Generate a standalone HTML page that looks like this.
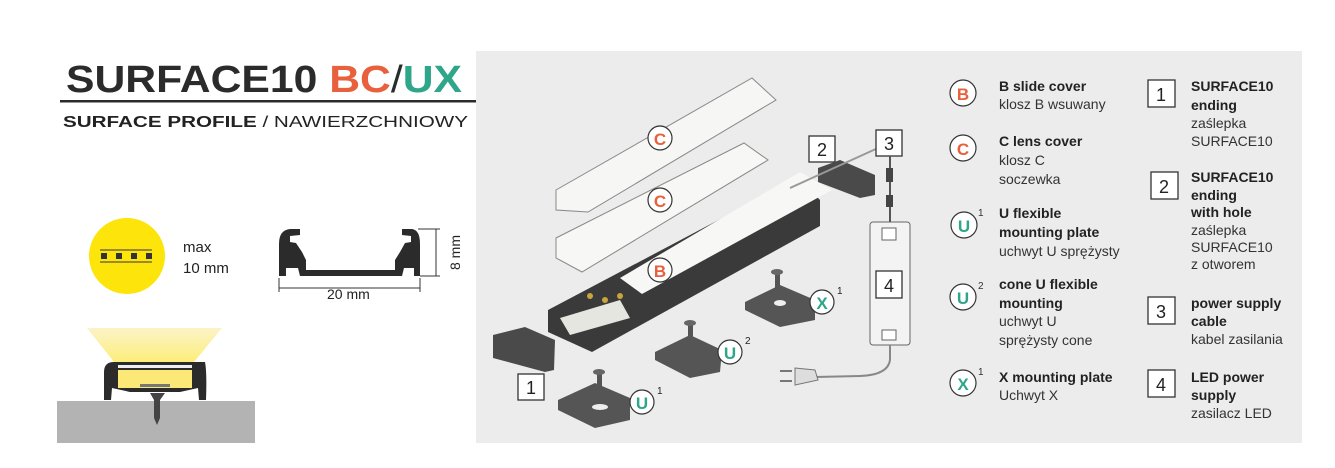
<!DOCTYPE html>
<html><head><meta charset="utf-8"><style>
body{margin:0;width:1335px;height:468px;background:#fff;overflow:hidden;font-family:"Liberation Sans","DejaVu Sans",sans-serif}
svg{display:block}
</style></head><body>
<svg width="1335" height="468" viewBox="0 0 1335 468" xmlns="http://www.w3.org/2000/svg" font-family="Liberation Sans, DejaVu Sans, sans-serif">
<rect x="476" y="51" width="826" height="392" fill="#ebeceb"/>
<!-- title -->
<text x="66" y="92" font-size="38" font-weight="bold" fill="#2b2b2b" textLength="396" lengthAdjust="spacingAndGlyphs">SURFACE10 <tspan fill="#e8613c">BC</tspan><tspan fill="#2b2b2b" font-weight="normal">/</tspan><tspan fill="#2fa58a">UX</tspan></text>
<rect x="60" y="100" width="416" height="2.5" fill="#2b2b2b"/>
<text x="63" y="127" font-size="16" fill="#222" textLength="405" lengthAdjust="spacingAndGlyphs"><tspan font-weight="bold">SURFACE PROFILE</tspan> / NAWIERZCHNIOWY</text>
<!-- yellow circle -->
<circle cx="127" cy="256" r="38" fill="#fde40a"/>
<line x1="100" y1="250" x2="152" y2="250" stroke="#333" stroke-width="1"/>
<line x1="100" y1="262" x2="152" y2="262" stroke="#333" stroke-width="1"/>
<rect x="101" y="253" width="6" height="6" fill="#333"/><rect x="116" y="253" width="6" height="6" fill="#333"/><rect x="131" y="253" width="6" height="6" fill="#333"/><rect x="146" y="253" width="6" height="6" fill="#333"/>
<text x="183" y="252" font-size="15" fill="#222">max</text>
<text x="183" y="273" font-size="15" fill="#222">10 mm</text>
<!-- profile drawing -->
<path d="M279 244 Q279 230 290 229 L300 229 L300 235 L290 236 L290 242 L296 243 L302 252 L306 260 L306 270 L395 270 L395 260 L400 252 L405 243 L411 242 L411 236 L402 235 L402 229 L412 229 Q420 230 420 244 L420 276 L414 276 L414 268 L404 268 L402 276 L300 276 L298 268 L286 268 L286 276 L279 276 Z" fill="#2b2b2b"/>
<line x1="279" y1="288" x2="420" y2="288" stroke="#333" stroke-width="1"/>
<line x1="279" y1="278" x2="279" y2="292" stroke="#333"/><line x1="420" y1="278" x2="420" y2="292" stroke="#333"/>
<text x="327" y="299" font-size="14" fill="#222">20 mm</text>
<line x1="418" y1="229" x2="440" y2="229" stroke="#333"/><line x1="420" y1="276" x2="440" y2="276" stroke="#333"/>
<line x1="436" y1="229" x2="436" y2="276" stroke="#333"/>
<text x="0" y="0" font-size="14" fill="#222" transform="translate(460,270) rotate(-90)">8 mm</text>
<!-- light cone -->
<defs><linearGradient id="lg" x1="0" y1="0" x2="0" y2="1"><stop offset="0" stop-color="#fbf3c8"/><stop offset="1" stop-color="#fdee7a"/></linearGradient></defs>
<polygon points="87,328 222,328 194,362 114,362" fill="url(#lg)"/>
<rect x="57" y="401" width="198" height="42" fill="#b3b3b3"/>
<path d="M104 372 Q104 362 114 362 L205 362 Q207 372 206 400 L199 400 L198 388 L180 392 L130 392 L112 388 L111 400 L104 400 Z" fill="#2b2b2b"/>
<rect x="118" y="370" width="74" height="18" fill="#fbe877"/>
<rect x="118" y="365" width="74" height="3" fill="#eee"/>
<rect x="140" y="384" width="30" height="3" fill="#777"/>
<polygon points="150,393 165,393 160,400 160,418 157,425 154,418 154,400" fill="#444"/>
<!-- diagram parts -->
<polygon points="556,190 752,78 776,100 588,212 556,210" fill="#f6f6f4" stroke="#888" stroke-width="1"/>
<circle cx="660" cy="138" r="12" fill="#fff" stroke="#333" stroke-width="1.2"/><text x="660" y="145" font-size="17" font-weight="bold" fill="#e8613c" text-anchor="middle">C</text>
<polygon points="556,238 744,143 768,160 582,272 556,258" fill="#f7f7f5" stroke="#888" stroke-width="1"/>
<circle cx="660" cy="200" r="12" fill="#fff" stroke="#333" stroke-width="1.2"/><text x="660" y="207" font-size="17" font-weight="bold" fill="#e8613c" text-anchor="middle">C</text>
<polygon points="548,310 798,178 820,200 820,226 592,352 548,332" fill="#3a3a3a"/>
<polygon points="620,278 800,172 832,190 642,294" fill="#f7f7f5"/>
<polygon points="560,318 620,300 630,318 570,335" fill="#e6e6e0"/>
<circle cx="590" cy="296" r="3" fill="#c9a53a"/><circle cx="605" cy="300" r="3" fill="#c9a53a"/><circle cx="620" cy="296" r="3" fill="#c9a53a"/>
<circle cx="660" cy="270" r="12" fill="#fff" stroke="#333" stroke-width="1.2"/><text x="660" y="277" font-size="17" font-weight="bold" fill="#e8613c" text-anchor="middle">B</text>
<polygon points="493,335 525,327 555,340 554,370 545,372 493,358" fill="#4a4a4a"/>
<rect x="518" y="374" width="26" height="26" fill="#fff" stroke="#333" stroke-width="1.3"/><text x="531" y="394" font-size="18" fill="#222" text-anchor="middle">1</text>
<rect x="809" y="136" width="26" height="26" fill="#fff" stroke="#333" stroke-width="1.3"/><text x="822" y="156" font-size="18" fill="#222" text-anchor="middle">2</text>
<polygon points="818,168 840,160 875,175 875,195 860,198 818,182" fill="#4a4a4a"/>
<line x1="790" y1="188" x2="878" y2="148" stroke="#999" stroke-width="2"/>
<rect x="876" y="130" width="26" height="26" fill="#fff" stroke="#333" stroke-width="1.3"/><text x="889" y="150" font-size="18" fill="#222" text-anchor="middle">3</text>
<line x1="890" y1="156" x2="890" y2="222" stroke="#555" stroke-width="2"/>
<rect x="886" y="168" width="7" height="14" fill="#444"/><rect x="886" y="195" width="7" height="12" fill="#444"/>
<rect x="870" y="222" width="40" height="123" rx="3" fill="#f3f3f3" stroke="#666" stroke-width="1"/>
<rect x="882" y="228" width="14" height="12" fill="#fff" stroke="#666"/><rect x="882" y="330" width="14" height="10" fill="#fff" stroke="#666"/>
<rect x="876" y="271" width="26" height="27" fill="#fff" stroke="#333" stroke-width="1.3"/><text x="889" y="292" font-size="18" fill="#222" text-anchor="middle">4</text>
<path d="M890 345 L890 360 Q888 375 860 376 L815 377" fill="none" stroke="#888" stroke-width="2"/>
<polygon points="795,368 815,370 818,380 795,385" fill="#ddd" stroke="#777"/>
<line x1="792" y1="371" x2="780" y2="371" stroke="#777" stroke-width="2"/><line x1="792" y1="381" x2="780" y2="381" stroke="#777" stroke-width="2"/>
<!-- plates -->
<polygon points="745,302 780,285 815,300 815,320 780,327 745,310" fill="#555"/>
<rect x="775" y="272" width="5" height="22" fill="#555"/><ellipse cx="777" cy="272" rx="6" ry="3" fill="#666"/>
<ellipse cx="780" cy="303" rx="6" ry="3" fill="#eee"/>
<circle cx="822" cy="302" r="12" fill="#fff" stroke="#333" stroke-width="1.2"/><text x="822" y="309" font-size="17" font-weight="bold" fill="#2fa58a" text-anchor="middle">X</text><text x="837" y="294" font-size="10" fill="#222">1</text>
<polygon points="655,352 690,335 722,350 720,372 690,378 655,360" fill="#555"/>
<rect x="688" y="323" width="5" height="22" fill="#555"/><ellipse cx="690" cy="323" rx="6" ry="3" fill="#666"/>
<circle cx="730" cy="352" r="12" fill="#fff" stroke="#333" stroke-width="1.2"/><text x="730" y="359" font-size="17" font-weight="bold" fill="#2fa58a" text-anchor="middle">U</text><text x="745" y="344" font-size="10" fill="#222">2</text>
<polygon points="558,400 595,383 630,398 630,420 595,428 558,410" fill="#555"/>
<rect x="597" y="372" width="5" height="22" fill="#555"/><ellipse cx="599" cy="372" rx="6" ry="3" fill="#666"/>
<ellipse cx="600" cy="407" rx="8" ry="3" fill="#eee"/>
<circle cx="642" cy="402" r="12" fill="#fff" stroke="#333" stroke-width="1.2"/><text x="642" y="409" font-size="17" font-weight="bold" fill="#2fa58a" text-anchor="middle">U</text><text x="657" y="394" font-size="10" fill="#222">1</text>
<!-- legend -->
<g font-size="14" fill="#333">
<circle cx="963" cy="93" r="13" fill="#fff" stroke="#333" stroke-width="1.2"/><text x="963" y="100" font-size="17" font-weight="bold" fill="#e8613c" text-anchor="middle">B</text>
<text x="999" y="91" font-weight="bold" fill="#222">B slide cover</text><text x="999" y="109">klosz B wsuwany</text>
<circle cx="963" cy="148" r="13" fill="#fff" stroke="#333" stroke-width="1.2"/><text x="963" y="155" font-size="17" font-weight="bold" fill="#e8613c" text-anchor="middle">C</text>
<text x="999" y="146" font-weight="bold" fill="#222">C lens cover</text><text x="999" y="165">klosz C</text><text x="999" y="184">soczewka</text>
<circle cx="964" cy="225" r="13" fill="#fff" stroke="#333" stroke-width="1.2"/><text x="964" y="232" font-size="17" font-weight="bold" fill="#2fa58a" text-anchor="middle">U</text><text x="978" y="216" font-size="10">1</text>
<text x="999" y="218" font-weight="bold" fill="#222">U flexible</text><text x="999" y="237" font-weight="bold" fill="#222">mounting plate</text><text x="999" y="256">uchwyt U sprężysty</text>
<circle cx="963" cy="297" r="13" fill="#fff" stroke="#333" stroke-width="1.2"/><text x="963" y="304" font-size="17" font-weight="bold" fill="#2fa58a" text-anchor="middle">U</text><text x="978" y="289" font-size="10">2</text>
<text x="999" y="289" font-weight="bold" fill="#222">cone U flexible</text><text x="999" y="308" font-weight="bold" fill="#222">mounting</text><text x="999" y="326">uchwyt U</text><text x="999" y="345">sprężysty cone</text>
<circle cx="963" cy="383" r="13" fill="#fff" stroke="#333" stroke-width="1.2"/><text x="963" y="390" font-size="17" font-weight="bold" fill="#2fa58a" text-anchor="middle">X</text><text x="978" y="375" font-size="10">1</text>
<text x="999" y="382" font-weight="bold" fill="#222">X mounting plate</text><text x="999" y="400">Uchwyt X</text>
<rect x="1148" y="80" width="27" height="27" fill="#fff" stroke="#333" stroke-width="1.3"/><text x="1161" y="101" font-size="18" fill="#222" text-anchor="middle">1</text>
<text x="1191" y="91" font-weight="bold" fill="#222">SURFACE10</text><text x="1191" y="110" font-weight="bold" fill="#222">ending</text><text x="1191" y="128">zaślepka</text><text x="1191" y="146">SURFACE10</text>
<rect x="1151" y="172" width="27" height="27" fill="#fff" stroke="#333" stroke-width="1.3"/><text x="1164" y="193" font-size="18" fill="#222" text-anchor="middle">2</text>
<text x="1191" y="182" font-weight="bold" fill="#222">SURFACE10</text><text x="1191" y="200" font-weight="bold" fill="#222">ending</text><text x="1191" y="217" font-weight="bold" fill="#222">with hole</text><text x="1191" y="235">zaślepka</text><text x="1191" y="252">SURFACE10</text><text x="1191" y="269">z otworem</text>
<rect x="1148" y="297" width="27" height="27" fill="#fff" stroke="#333" stroke-width="1.3"/><text x="1161" y="318" font-size="18" fill="#222" text-anchor="middle">3</text>
<text x="1191" y="308" font-weight="bold" fill="#222">power supply</text><text x="1191" y="326" font-weight="bold" fill="#222">cable</text><text x="1191" y="344">kabel zasilania</text>
<rect x="1148" y="370" width="27" height="27" fill="#fff" stroke="#333" stroke-width="1.3"/><text x="1161" y="391" font-size="18" fill="#222" text-anchor="middle">4</text>
<text x="1191" y="382" font-weight="bold" fill="#222">LED power</text><text x="1191" y="400" font-weight="bold" fill="#222">supply</text><text x="1191" y="418">zasilacz LED</text>
</g>
</svg>
</body></html>
